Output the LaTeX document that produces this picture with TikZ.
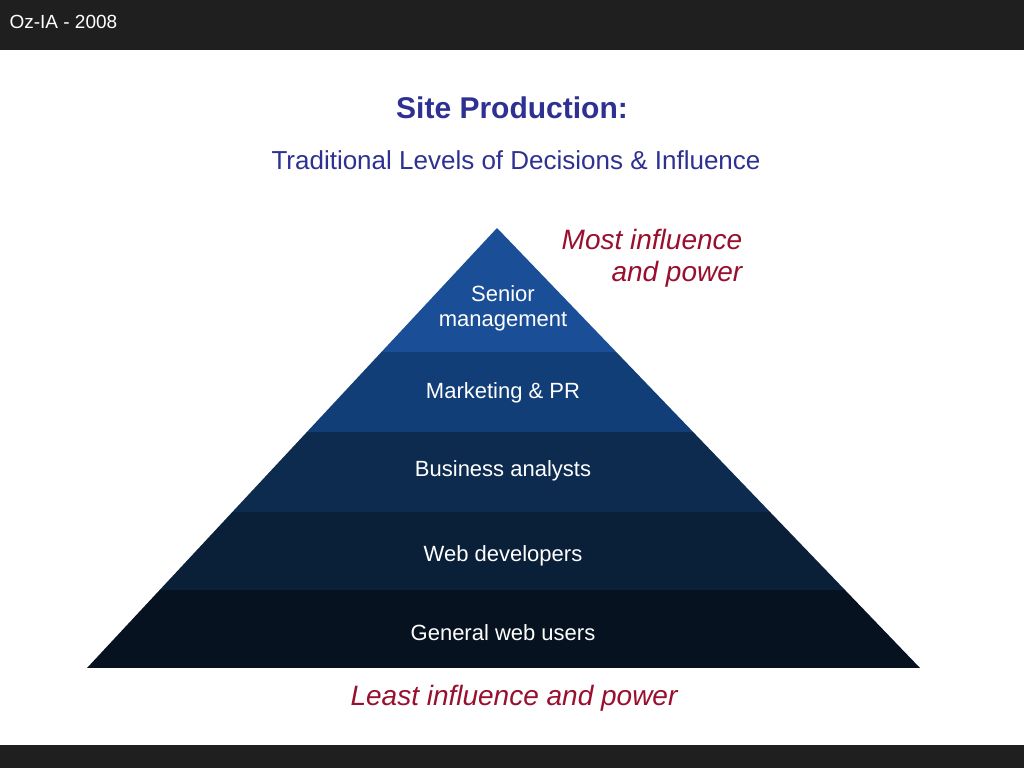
\documentclass[tikz,border=0pt]{standalone}
\usepackage{fontspec}
\setmainfont{Liberation Sans}
\definecolor{ttl}{HTML}{2E3192}
\definecolor{red1}{HTML}{990F2E}
\definecolor{L1}{HTML}{1A4F98}
\definecolor{L2}{HTML}{123E78}
\definecolor{L3}{HTML}{0C2B4E}
\definecolor{L4}{HTML}{0A2038}
\definecolor{L5}{HTML}{061220}
\begin{document}
\begin{tikzpicture}[x=1pt,y=-1pt,
  lay/.style={text=white,font=\fontsize{22}{25}\selectfont,align=center},
  red/.style={text=red1,font=\fontsize{28}{32}\selectfont\itshape,align=right}]
\useasboundingbox (0,0) rectangle (1024,768);
\fill[white] (0,0) rectangle (1024,768);
\fill[black!88] (0,0) rectangle (1024,50);
\fill[black!88] (0,745) rectangle (1024,768);
\node[text=white,font=\fontsize{19}{22}\selectfont,anchor=west] (hdr) at (6,22) {Oz-IA - 2008};
\node[text=ttl,font=\fontsize{30}{34}\selectfont\bfseries] (t1) at (512,108) {Site Production:};
\node[text=ttl,font=\fontsize{26}{30}\selectfont] (t2) at (516,160) {Traditional Levels of Decisions \& Influence};
\begin{scope}
\clip (497,228) -- (920,668) -- (87,668) -- cycle;
\fill[L1] (0,220) rectangle (1024,352);
\fill[L2] (0,352) rectangle (1024,432);
\fill[L3] (0,432) rectangle (1024,512);
\fill[L4] (0,512) rectangle (1024,590);
\fill[L5] (0,590) rectangle (1024,668);
\end{scope}
\node[lay] (s) at (503,308) {Senior\\management};
\node[lay] (m) at (503,393) {Marketing \& PR};
\node[lay] (b) at (503,471) {Business analysts};
\node[lay] (w) at (503,556) {Web developers};
\node[lay] (g) at (503,633) {General web users};
\node[red] (most) at (652,258) {Most influence\\and power};
\node[red] (least) at (514,698) {Least influence and power};
\end{tikzpicture}
\end{document}
